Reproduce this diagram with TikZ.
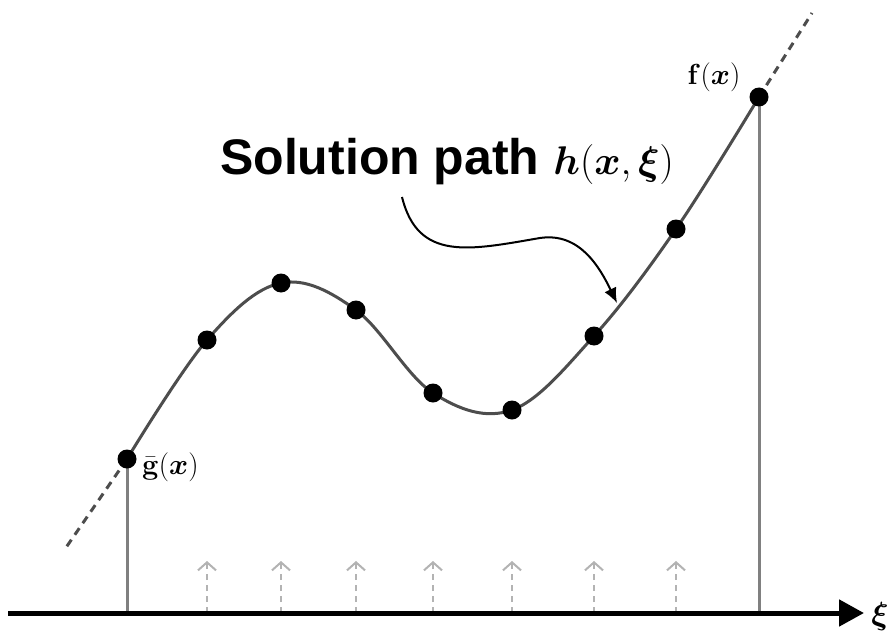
\RequirePackage{fix-cm}
\documentclass[tikz,border=0pt]{standalone}
\usepackage{amsmath,bm}
\usepackage[no-math]{fontspec}
\setmainfont{Liberation Sans}
\usetikzlibrary{arrows.meta}
\definecolor{pathgrey}{HTML}{4D4D4D}
\definecolor{stemgrey}{HTML}{808080}
\definecolor{hintgrey}{HTML}{B3B3B3}
\tikzset{
  sample/.style={circle,fill=black,inner sep=0pt,minimum size=19pt},
  stem/.style={stemgrey,line width=3pt},
  lift/.style={hintgrey,line width=2pt,dash pattern=on 6pt off 5pt,-{Straight Barb[length=8pt,width=18pt,line width=2pt]}},
}
\begin{document}
\begin{tikzpicture}[x=1pt,y=-1pt,line cap=butt,line join=round]
    \useasboundingbox (0,0) rectangle (890,639);
    % points on the path
    \coordinate (p0) at (127,459);
    \coordinate (p1) at (207,340);
    \coordinate (p2) at (281,283);
    \coordinate (p3) at (356,310);
    \coordinate (p4) at (433,393);
    \coordinate (p5) at (512,410);
    \coordinate (p6) at (594,336);
    \coordinate (p7) at (676,229);
    \coordinate (p8) at (759,97);
    \coordinate (lo) at (65,549);
    \coordinate (hi) at (812,13);
    \coordinate (axl) at (8,613);
    \coordinate (axr) at (864,613);
    % stems and hints
    \draw[stem] (p0) -- (p0 |- axl);
    \draw[stem] (p8) -- (p8 |- axl);
    \foreach \i in {1,...,7}
      \draw[lift] (p\i |- axl) -- ++(0,-52);
    % axis
    \draw[line width=5pt,-{Triangle[length=25pt,width=26pt]}] (axl) -- (axr);
    \node[font=\fontsize{32}{36}\selectfont] (xi) at (880,616) {$\bm{\xi}$};
    % the path
    \draw[pathgrey,line width=3pt,dash pattern=on 8pt off 6pt] (p0) -- (lo);
    \draw[pathgrey,line width=3pt,dash pattern=on 8pt off 6pt] (p8) -- (hi);
    \draw[pathgrey,line width=3pt] plot[smooth,tension=0.6] coordinates {(p0) (p1) (p2) (p3) (p4) (p5) (p6) (p7) (p8)};
    \foreach \i in {0,...,8}
      \node[sample] (d\i) at (p\i) {};
    \node[font=\fontsize{29}{32}\selectfont,inner sep=0pt] (flab) at (714,77) {$\mathbf{f}(\bm{x})$};
    \node[font=\fontsize{29}{32}\selectfont,inner sep=0pt,anchor=west] (glab) at (142,467) {$\bar{\mathbf{g}}(\bm{x})$};
    % callout
    \node[font=\fontsize{50}{54}\selectfont\bfseries,inner sep=0pt] (title) at (447,162)
      {Solution path {\fontsize{40}{44}\selectfont$\bm{h}(\bm{x},\bm{\xi})$}};
    \coordinate (tip) at (617,303);
    \draw[line width=2pt,-{Latex[length=15pt,width=13pt]}] (402,197)
      .. controls (418,262) and (470,250) .. (540,238)
      .. controls (580,232) and (600,268) .. (tip);
\end{tikzpicture}
\end{document}
